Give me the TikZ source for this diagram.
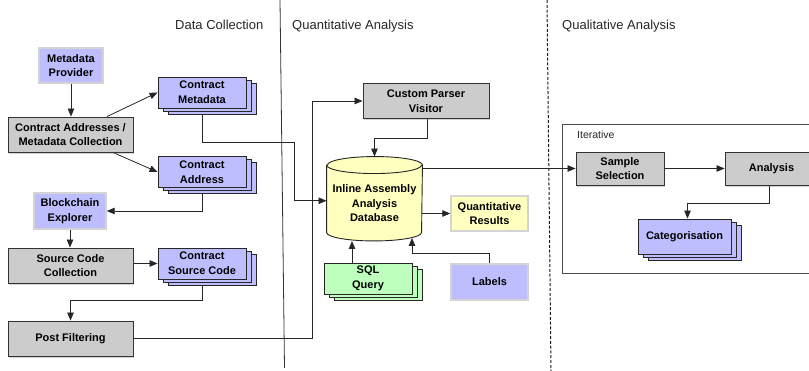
\documentclass[tikz,border=0pt]{standalone}
\usepackage{fontspec}
\setmainfont{Liberation Sans}
\usetikzlibrary{arrows.meta,shadows,calc}
\definecolor{lav}{RGB}{190,190,255}
\definecolor{gry}{RGB}{204,204,204}
\definecolor{grn}{RGB}{190,255,190}
\definecolor{yel}{RGB}{255,255,192}
\definecolor{lightbd}{RGB}{212,212,212}
\pgfdeclarelayer{bg}
\pgfdeclarelayer{mid}
\pgfsetlayers{bg,mid,main}
\tikzset{
  base/.style={font=\fontsize{11}{14.6}\selectfont\bfseries, align=center, inner sep=0pt, line width=0.9pt},
  graybox/.style={base, fill=gry, draw=black!80, drop shadow={shadow xshift=1.2pt,shadow yshift=-1.6pt,opacity=0.35}},
  lightbox/.style={base, fill=#1, draw=lightbd, line width=1.4pt},
  stackbox/.style={base, fill=#1, draw=black!85,
     general shadow={shadow xshift=10pt,shadow yshift=-6pt,fill=#1,draw=black!85},
     general shadow={shadow xshift=5pt,shadow yshift=-3pt,fill=#1,draw=black!85}},
  conn/.style={draw=black!85, line width=0.8pt},
  arr/.style={conn, -{Triangle[length=8pt,width=6.5pt]}},
  header/.style={font=\fontsize{13}{15}\selectfont, text=black!85, anchor=base west, inner sep=0pt},
}
\begin{document}
\begin{tikzpicture}[x=1pt,y=-1pt]
\useasboundingbox (0,0) rectangle (809,371);

% headers
\node[header] (h1) at (175,29.5) {Data Collection};
\node[header] (h2) at (292,29.5) {Quantitative Analysis};
\node[header] (h3) at (562,29.5) {Qualitative Analysis};

% nodes
\node[lightbox=lav, minimum width=64, minimum height=35] (mp) at (71,65.5) {Metadata\\Provider};
\node[graybox, minimum width=125, minimum height=35] (camc) at (70.5,134.5) {Contract Addresses /\\Metadata Collection};
\node[stackbox=lav, minimum width=88, minimum height=31] (cmeta) at (202,92.5) {Contract\\Metadata};
\node[stackbox=lav, minimum width=88, minimum height=31] (caddr) at (202,172) {Contract\\Address};
\node[lightbox=lav, minimum width=72, minimum height=36] (be) at (70,211) {Blockchain\\Explorer};
\node[graybox, minimum width=125, minimum height=35] (scc) at (70.5,265.5) {Source Code\\Collection};
\node[stackbox=lav, minimum width=88, minimum height=31] (csc) at (202,263.5) {Contract\\Source Code};
\node[graybox, minimum width=125, minimum height=35] (pf) at (70.5,338.5) {Post Filtering};
\node[graybox, minimum width=126, minimum height=35] (cpv) at (426,101) {Custom Parser\\Visitor};
\node[base, draw=none, minimum width=95, minimum height=83.5,
      label={[base, yshift=-4.5pt]center:Inline Assembly\\Analysis\\Database}] (db) at (374.5,198.75) {};
\node[lightbox=yel, minimum width=77, minimum height=35] (qr) at (489.5,213.5) {Quantitative\\Results};
\node[stackbox=grn, minimum width=88, minimum height=31] (sql) at (368,278.5) {SQL\\Query};
\node[lightbox=lav, minimum width=77, minimum height=36] (lab) at (489.5,282) {Labels};
\node[graybox, minimum width=88, minimum height=33] (ss) at (620,168.5) {Sample\\Selection};
\node[graybox, minimum width=93, minimum height=33] (an) at (771.5,168.5) {Analysis};
\node[stackbox=lav, minimum width=93, minimum height=35] (cat) at (684.5,236.5) {Categorisation};
\node[font=\fontsize{10.5}{12}\selectfont, text=black!85, anchor=base west, inner sep=0pt] (it) at (577,139) {Iterative};

% cylinder
\begin{pgfonlayer}{mid}
\filldraw[fill=yel, draw=black!85, line width=0.9pt]
  ([yshift=-8.5pt]db.north west) -- ([yshift=8.5pt]db.south west)
  arc[start angle=180, end angle=360, x radius=47.5pt, y radius=8.5pt]
  -- ([yshift=-8.5pt]db.north east)
  arc[start angle=0, end angle=180, x radius=47.5pt, y radius=8.5pt] -- cycle;
\draw[draw=black!85, line width=0.9pt] ([yshift=-8.5pt]db.north west)
  arc[start angle=180, end angle=360, x radius=47.5pt, y radius=8.5pt];
\end{pgfonlayer}

\begin{pgfonlayer}{bg}
% section separators
\draw[black!80, line width=0.8pt] (280,0) -- (284.5,368);
\draw[black!90, line width=1pt, dash pattern=on 3pt off 1.8pt] (547,0) -- (551,371);
% iterative frame
\draw[black!70, line width=0.8pt] (562,124) rectangle (830,273);

% connectors
\draw[arr] (mp.south) -- (mp.south |- camc.north);
\draw[arr] ([xshift=36.5pt]camc.north) -- (cmeta.west);
\draw[arr] ([xshift=42.5pt]camc.south) -- (caddr.west);
\draw[arr] (caddr.south) |- (be.east);
\draw[arr] (be.south) -- (be.south |- scc.north);
\draw[arr] (scc.east |- csc.west) -- (csc.west);
\draw[arr] (csc.south) -- ++(0,21) -| (pf.north);
\coordinate (j1) at (294,142);
\draw[arr] (cmeta.south) |- (j1) |- ([yshift=-2pt]db.west);
\coordinate (j2) at (312,338.5);
\draw[arr] (pf.east) -- (j2) |- (cpv.west);
\draw[arr] ([xshift=1pt]cpv.south) -- ++(0,19) -| (db.north);
\draw[arr] (db.east |- ss.west) -- (ss.west);
\draw[arr] (db.east |- qr.west) -- (qr.west);
\draw[arr] ([xshift=-16pt]sql.north) -- ([xshift=-16pt]sql.north |- db.south);
\draw[arr] (lab.north) -- ++(0,-10) -| ([xshift=37.5pt,yshift=3pt]db.south);
\draw[arr] (ss.east) -- (an.west);
\draw[arr] ([xshift=-2.5pt]an.south) -- ++(0,18) -| ([xshift=3pt]cat.north);
\end{pgfonlayer}
\end{tikzpicture}
\end{document}
